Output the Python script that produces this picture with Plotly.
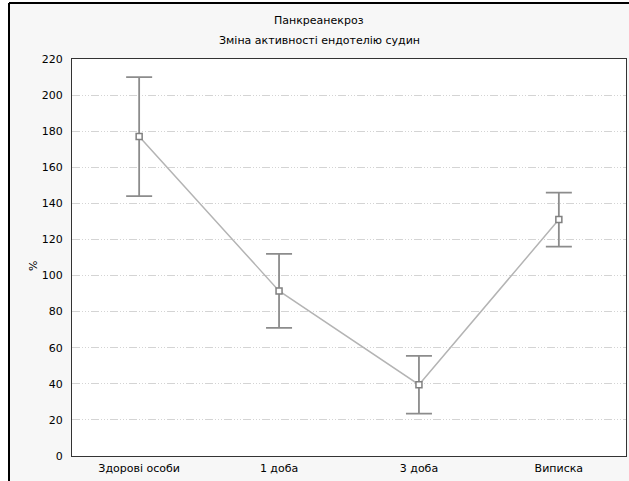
import plotly.graph_objects as go

categories = ["Здорові особи", "1 доба", "3 доба", "Виписка"]
means = [177, 91.5, 39.5, 131]
errors = [33, 20.5, 16, 15]
y_ticks = [0, 20, 40, 60, 80, 100, 120, 140, 160, 180, 200, 220]
title_line1 = "Панкреанекроз"
title_line2 = "Зміна активності ендотелію судин"
y_title = "%"

W, H = 629, 481
L, R, T, B = 72, 3, 59, 25
pw, ph = W - L - R, H - T - B

def px(xp):
    return (xp - L) / pw

def py(yp):
    return (H - B - yp) / ph

FONT = "DejaVu Sans, Verdana, sans-serif"

fig = go.Figure()
fig.add_trace(go.Scatter(
    x=list(range(len(categories))), y=means,
    mode="lines+markers",
    line=dict(color="#b4b4b4", width=1.5),
    marker=dict(symbol="square", size=6, color="white",
                line=dict(color="#808080", width=1.5)),
    error_y=dict(type="data", array=errors, visible=True,
                 color="#8c8c8c", thickness=1.8, width=13),
    showlegend=False, cliponaxis=False,
))

fig.update_layout(
    width=W, height=H,
    margin=dict(l=L, r=R, t=T, b=B, pad=0),
    paper_bgcolor="#f7f7f7",
    plot_bgcolor="white",
    font=dict(family=FONT, size=11, color="black"),
    xaxis=dict(
        range=[-0.48, 3.48],
        tickmode="array", tickvals=list(range(len(categories))), ticktext=categories,
        showgrid=False, zeroline=False,
        showline=True, linecolor="#333333", linewidth=1, mirror=True,
        ticks="", ticklabelstandoff=2,
        tickfont=dict(family=FONT, size=11, color="black"),
    ),
    yaxis=dict(
        range=[0, 220],
        tickmode="array", tickvals=y_ticks, ticktext=[str(v) for v in y_ticks],
        showgrid=True, gridcolor="#d4d4d4", gridwidth=1,
        griddash="8px,2px,1px,2px,1px,2px,1px,2px",
        zeroline=False,
        showline=True, linecolor="#333333", linewidth=1, mirror=True,
        ticks="", ticklabelstandoff=6,
        tickfont=dict(family=FONT, size=11, color="black"),
    ),
    shapes=[
        dict(type="rect", xref="paper", yref="paper", x0=px(0), x1=px(9), y0=py(H), y1=py(0),
             fillcolor="white", line=dict(width=0), layer="below"),
        dict(type="rect", xref="paper", yref="paper", x0=px(0), x1=px(W), y0=py(3), y1=py(0),
             fillcolor="white", line=dict(width=0), layer="below"),
        dict(type="line", xref="paper", yref="paper", x0=px(9), x1=px(9), y0=py(3), y1=py(H),
             line=dict(color="black", width=2)),
        dict(type="line", xref="paper", yref="paper", x0=px(9), x1=px(W), y0=py(3), y1=py(3),
             line=dict(color="black", width=2)),
    ],
    annotations=[
        dict(text=title_line1, xref="paper", yref="paper", x=px(319), y=py(20),
             showarrow=False, xanchor="center", yanchor="middle",
             font=dict(family=FONT, size=11, color="black")),
        dict(text=title_line2, xref="paper", yref="paper", x=px(319), y=py(40),
             showarrow=False, xanchor="center", yanchor="middle",
             font=dict(family=FONT, size=11, color="black")),
        dict(text=y_title, xref="paper", yref="paper", x=px(33), y=py(266),
             showarrow=False, xanchor="center", yanchor="middle", textangle=-90,
             font=dict(family=FONT, size=11, color="black")),
    ],
)

fig.write_html("out.html")
